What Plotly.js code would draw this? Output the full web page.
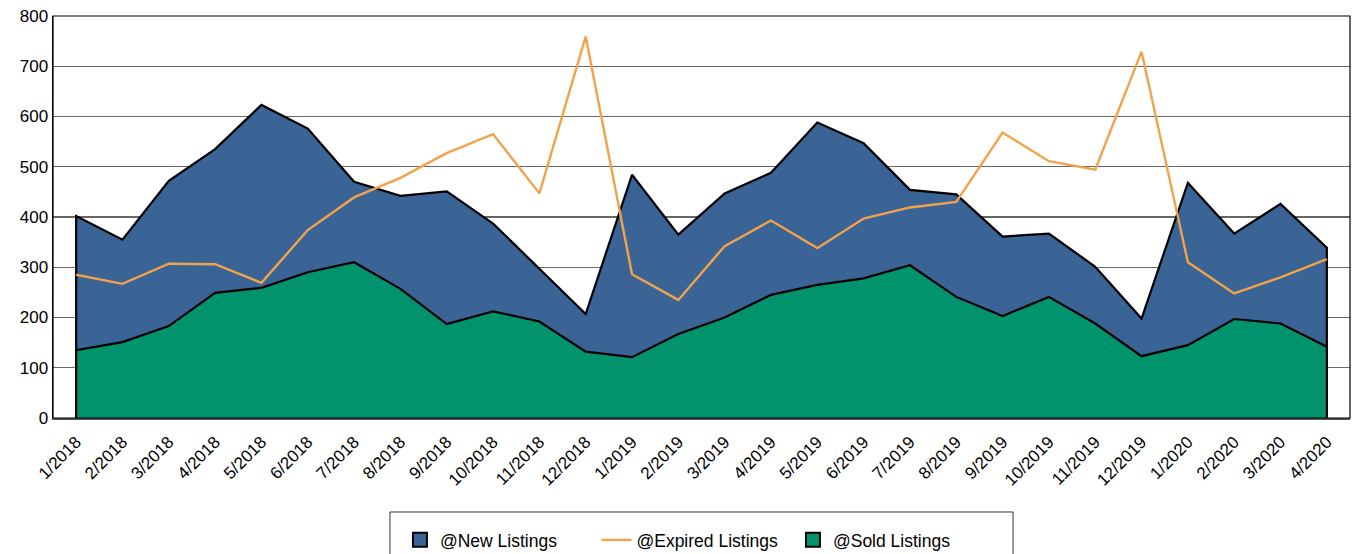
<!DOCTYPE html>
<html>
<head>
<meta charset="utf-8">
<script src="https://cdn.plot.ly/plotly-3.0.1.min.js"></script>
<style>html,body{margin:0;padding:0;background:#fff;}#chart{width:1352px;height:554px;}</style>
</head>
<body>
<div id="chart"></div>
<script>
const months = ["1/2018","2/2018","3/2018","4/2018","5/2018","6/2018","7/2018","8/2018","9/2018","10/2018","11/2018","12/2018",
  "1/2019","2/2019","3/2019","4/2019","5/2019","6/2019","7/2019","8/2019","9/2019","10/2019","11/2019","12/2019",
  "1/2020","2/2020","3/2020","4/2020"];
const newListings = [402,355,472,535,623,576,470,442,451,387,297,207,484,365,447,488,588,547,454,445,361,367,301,198,468,367,426,339];
const expiredListings = [285,267,307,306,269,374,439,478,527,565,447,759,286,235,342,393,338,397,419,430,568,511,494,729,310,248,280,316];
const soldListings = [135,151,183,249,259,290,310,257,187,212,192,132,121,167,200,245,265,278,304,241,203,241,188,123,145,197,188,142];
const yTicks = [0,100,200,300,400,500,600,700,800];

const BLUE = '#3A6495', GREEN = '#00936E', ORANGE = '#F2A24A';

function closedArea(vals){
  return {
    x: [months[0]].concat(months, [months[months.length-1]]),
    y: [0].concat(vals, [0])
  };
}
const nA = closedArea(newListings);
const sA = closedArea(soldListings);

const traces = [
  {type:'scatter', mode:'lines', name:'@New Listings', x:nA.x, y:nA.y, fill:'toself',
   fillcolor:BLUE, line:{color:'#000', width:2.2}, showlegend:false, hoverinfo:'skip'},
  {type:'scatter', mode:'lines', name:'@Sold Listings', x:sA.x, y:sA.y, fill:'toself',
   fillcolor:GREEN, line:{color:'#000', width:2.2}, showlegend:false, hoverinfo:'skip'},
  {type:'scatter', mode:'lines', name:'@Expired Listings', x:months, y:expiredListings,
   line:{color:ORANGE, width:2.4}, legendrank:2},
  {type:'scatter', mode:'markers', name:'@New Listings', x:[null], y:[null],
   marker:{symbol:'square', size:14, color:BLUE, line:{color:'#000', width:2}}, legendrank:1},
  {type:'scatter', mode:'markers', name:'@Sold Listings', x:[null], y:[null],
   marker:{symbol:'square', size:14, color:GREEN, line:{color:'#000', width:2}}, legendrank:3}
];

const layout = {
  width:1352, height:554,
  margin:{l:53, r:2, t:16, b:136},
  paper_bgcolor:'#fff', plot_bgcolor:'#fff',
  font:{family:'Arial, "Liberation Sans", sans-serif', color:'#000'},
  showlegend:true,
  xaxis:{type:'category', categoryorder:'array', categoryarray:months, range:[-0.5, months.length-0.5],
    tickangle:-45, tickfont:{size:17}, showgrid:false, zeroline:false, automargin:false,
    ticklabelstandoff:6,
    showline:true, linecolor:'#555', linewidth:1.5, mirror:false, ticks:''},
  yaxis:{range:[0,800], tickvals:yTicks, ticktext:yTicks.map(String), tickfont:{size:17}, automargin:false,
    showgrid:true, gridcolor:'#666', gridwidth:1.2, zeroline:false,
    showline:true, linecolor:'#000', linewidth:1.5, ticks:'', ticklen:0},
  legend:{orientation:'h', x:0.2675, xanchor:'left', yref:'container', y:0.0578, yanchor:'top',
    font:{size:17.5}, bgcolor:'rgba(0,0,0,0)', borderwidth:0, traceorder:'normal',
    entrywidth:151.5, entrywidthmode:'pixels'},
  shapes:[
    {type:'rect', xref:'paper', yref:'paper', x0:0, x1:1, y0:0, y1:1, line:{color:'#000', width:1.2}, layer:'above'},
    {type:'rect', xref:'paper', yref:'paper', x0:0.2598, x1:0.7402, y0:-0.2338, y1:-0.40, line:{color:'#333', width:1}, fillcolor:'rgba(0,0,0,0)'}
  ]
};
Plotly.newPlot('chart', traces, layout, {displayModeBar:false, staticPlot:true});
</script>
</body>
</html>
